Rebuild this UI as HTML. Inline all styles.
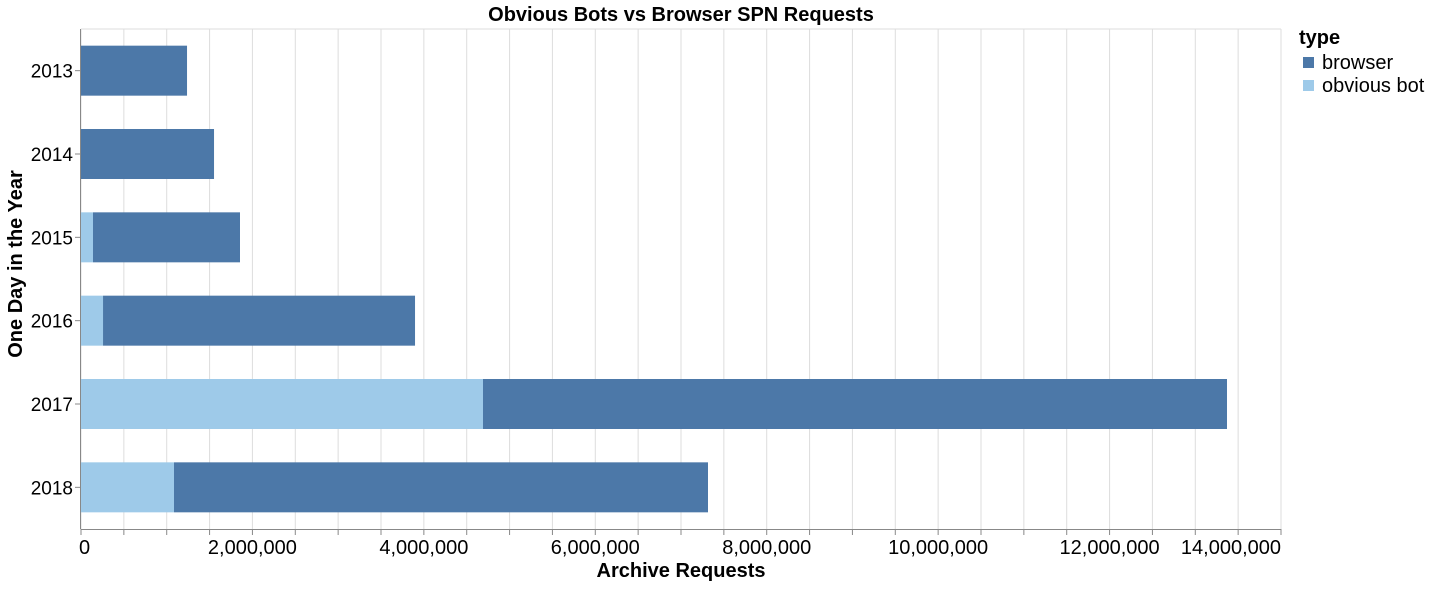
<!DOCTYPE html>
<html><head><meta charset="utf-8"><style>
body{margin:0;background:#fff;font-family:"Liberation Sans",Arial,sans-serif}
svg text{font-family:"Liberation Sans",Arial,sans-serif}
</style></head><body>
<svg id="chart" width="1431" height="585" xmlns="http://www.w3.org/2000/svg">
<text x="681" y="21" text-anchor="middle" font-size="20" font-weight="bold">Obvious Bots vs Browser SPN Requests</text>
<g id="grid"></g><g id="bars"></g><g id="axes"></g>
<text x="681" y="577" text-anchor="middle" font-size="20" font-weight="bold">Archive Requests</text>
<text transform="translate(22,264) rotate(-90)" text-anchor="middle" font-size="20" font-weight="bold">One Day in the Year</text>
<g>
<text x="1299" y="44" font-size="20" font-weight="bold">type</text>
<rect x="1303" y="57" width="11" height="11" fill="#4c78a8"/>
<text x="1322" y="69" font-size="20">browser</text>
<rect x="1303" y="80" width="11" height="11" fill="#9ecae9"/>
<text x="1322" y="92" font-size="20">obvious bot</text>
</g>
</svg>
<script>
const years=["2013","2014","2015","2016","2017","2018"];
const botValues=[0,0,140000,257000,4690000,1085000];
const browserValues=[1237000,1552000,1715000,3640000,8680000,6230000];
const xTickLabels=["0","2,000,000","4,000,000","6,000,000","8,000,000","10,000,000","12,000,000","14,000,000"];
const xTickValues=[0,2000000,4000000,6000000,8000000,10000000,12000000,14000000];
const NS="http://www.w3.org/2000/svg";
const L=81,R=1281,T=29,B=529,xMax=14000000;
const x=v=>L+(R-L)*v/xMax;
const band=(B-T)/years.length;
const y=i=>T+band*i;
function mk(p,tag,a){const e=document.createElementNS(NS,tag);for(const k in a)e.setAttribute(k,a[k]);p.appendChild(e);return e;}
const grid=document.getElementById('grid'),bars=document.getElementById('bars'),axes=document.getElementById('axes');
for(let v=0;v<=xMax;v+=500000){
 const g=mk(grid,'line',{x1:x(v),x2:x(v),y1:T,y2:B,stroke:'#ddd'});
 
 
 const t=mk(axes,'line',{x1:x(v),x2:x(v),y1:B,y2:B+6,stroke:'#888'});
 
 
}
const gt=mk(grid,'line',{x1:L,x2:R,y1:T,y2:T,stroke:'#ddd'});


const ax=mk(axes,'line',{x1:L,x2:R,y1:B+0.5,y2:B+0.5,stroke:'#888'});


const ay=mk(axes,'line',{x1:L-0.5,x2:L-0.5,y1:T,y2:B,stroke:'#888'});


xTickValues.forEach((v,i)=>{
 const anchor=i==0?'start':(i==xTickValues.length-1?'end':'middle');
 const t=mk(axes,'text',{x:x(v)+(i==0?-2:0),y:B+25,'text-anchor':anchor,'font-size':20});
 t.textContent=xTickLabels[i];
 
 
});
years.forEach((yr,i)=>{
 const by=y(i)+band*0.2,bh=band*0.6;
 const r1=mk(bars,'rect',{x:x(0),y:by,width:x(botValues[i])-x(0),height:bh,fill:'#9ecae9'});
 
 
 const r2=mk(bars,'rect',{x:x(botValues[i]),y:by,width:x(botValues[i]+browserValues[i])-x(botValues[i]),height:bh,fill:'#4c78a8'});
 
 
 const tk=mk(axes,'line',{x1:L-6,x2:L,y1:y(i)+band/2,y2:y(i)+band/2,stroke:'#888'});
 
 
 const t=mk(axes,'text',{x:L-8,y:y(i)+band/2+7,'text-anchor':'end','font-size':19});
 t.textContent=yr;
 
 
});
</script>
</body></html>
